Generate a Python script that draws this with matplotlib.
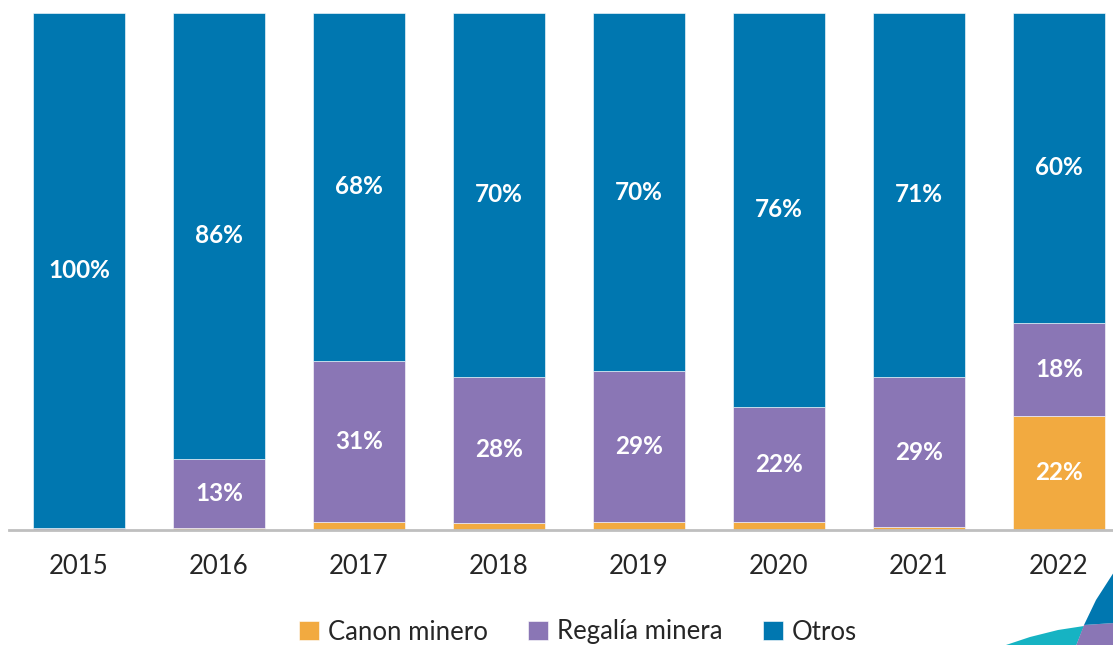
import matplotlib

matplotlib.use("Agg")
import matplotlib.pyplot as plt
import numpy as np
from matplotlib.patches import Polygon

plt.rcParams["font.family"] = ["Lato", "DejaVu Sans"]

YEARS = ["2015", "2016", "2017", "2018", "2019", "2020", "2021", "2022"]
CANON = [0.0, 0.3, 1.5, 1.2, 1.5, 1.5, 0.4, 22.0]
REGALIA = [0.3, 13.4, 31.2, 28.4, 29.1, 22.3, 29.2, 18.0]
OTROS = [99.7, 86.3, 67.3, 70.4, 69.4, 76.2, 70.4, 60.0]

CANON_LABELS = ["", "", "", "", "", "", "", "22%"]
REGALIA_LABELS = ["", "13%", "31%", "28%", "29%", "22%", "29%", "18%"]
OTROS_LABELS = ["100%", "86%", "68%", "70%", "70%", "76%", "71%", "60%"]

COLORS = {
    "canon": "#F2AA40",
    "regalia": "#8A76B5",
    "otros": "#0077B0",
    "teal": "#16B3C3",
    "axis": "#BFBFBF",
    "text": "#262626",
}

W, H = 1113, 645
fig = plt.figure(figsize=(W / 100, H / 100), dpi=100)
# axes run past the right edge, as in the cropped original
ax = fig.add_axes([9 / W, 1 - 529.5 / H, 1120 / W, (529.5 - 13) / H])

x = np.arange(len(YEARS))
width = 92 / 140
canon = np.array(CANON)
regalia = np.array(REGALIA)
otros = np.array(OTROS)
total = canon + regalia + otros

series = [
    ("Canon minero", canon, np.zeros_like(canon), COLORS["canon"], CANON_LABELS),
    ("Regalía minera", regalia, canon, COLORS["regalia"], REGALIA_LABELS),
    ("Otros", otros, canon + regalia, COLORS["otros"], OTROS_LABELS),
]
for name, vals, bottom, color, labels in series:
    ax.bar(x, vals, bottom=bottom, width=width, color=color, label=name,
           edgecolor="white", linewidth=0.4)
    for xi, v, b, lab in zip(x, vals, bottom, labels):
        if lab:
            ax.text(xi, b + v / 2, lab, ha="center", va="center", color="white",
                    fontsize=17.5, fontweight="bold")

ax.set_xlim(-0.5, 7.5)
ax.set_ylim(0, total.max())
for side in ["top", "right", "left"]:
    ax.spines[side].set_visible(False)
ax.spines["bottom"].set_color(COLORS["axis"])
ax.spines["bottom"].set_linewidth(2)
ax.set_yticks([])
ax.set_xticks(x)
ax.set_xticklabels(YEARS, fontsize=18.5, color=COLORS["text"])
ax.tick_params(axis="x", length=0, pad=18)

handles, labels = ax.get_legend_handles_labels()
fig.legend(handles, labels, loc="center", bbox_to_anchor=(578 / W, 1 - 632 / H),
           ncol=3, frameon=False, fontsize=18.5, handlelength=0.75, handleheight=0.75,
           handletextpad=0.35, columnspacing=1.6, labelcolor=COLORS["text"])

# decorative corner shapes (bottom right)
def px(points):
    return [(px_x / W, 1 - px_y / H) for px_x, px_y in points]

fig.patches.append(Polygon(px([(1003, 646), (1030, 637), (1058, 630), (1084, 626), (1076, 646)]),
                           closed=True, transform=fig.transFigure, color=COLORS["teal"], lw=0))
fig.patches.append(Polygon(px([(1076, 646), (1084, 625), (1114, 623), (1114, 646)]),
                           closed=True, transform=fig.transFigure, color=COLORS["regalia"], lw=0))
fig.patches.append(Polygon(px([(1114, 572), (1096, 600), (1084, 625), (1114, 623)]),
                           closed=True, transform=fig.transFigure, color=COLORS["otros"], lw=0))

fig.savefig("out.png", dpi=100)
